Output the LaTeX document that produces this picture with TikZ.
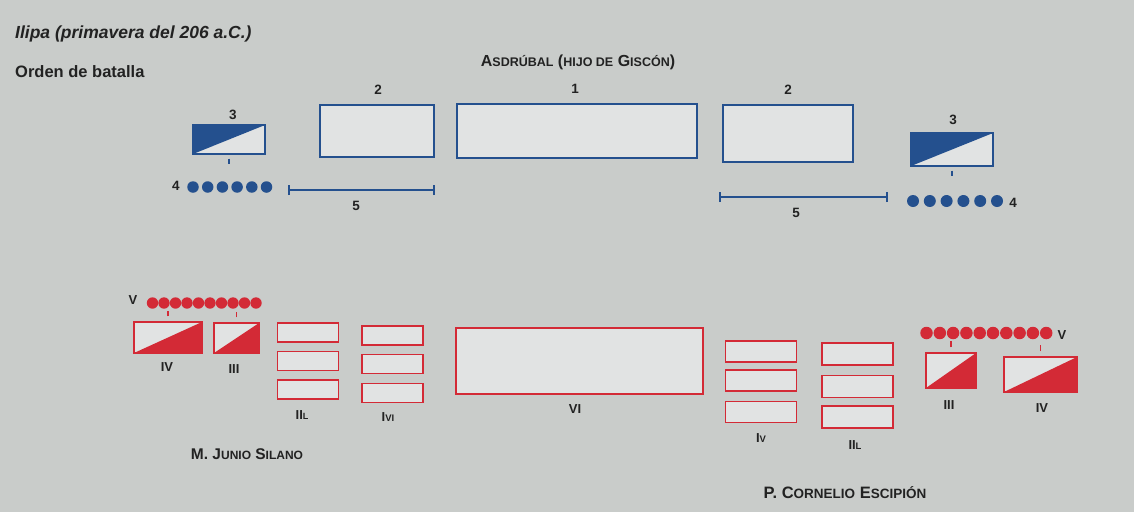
\documentclass[tikz,border=0pt]{standalone}
\usepackage{fontspec}
\setmainfont{Liberation Sans}
\definecolor{bg}{HTML}{C9CCCA}
\definecolor{boxfill}{HTML}{E1E3E3}
\definecolor{carth}{HTML}{24508E}
\definecolor{rom}{HTML}{D32A36}
\definecolor{ink}{HTML}{222222}
\newcommand{\mysc}[2][12.5]{{\fontsize{#1}{#1}\selectfont #2}}
\begin{document}
\begin{tikzpicture}[x=1pt,y=-1pt,
  cbox/.style={draw=carth,line width=1.4pt,fill=boxfill,inner sep=0pt},
  rbox/.style={draw=rom,line width=1.4pt,fill=boxfill,inner sep=0pt},
  cflag/.style={cbox,path picture={\fill[carth] (path picture bounding box.north west) -- (path picture bounding box.north east) -- (path picture bounding box.south west) -- cycle;}},
  rflag/.style={rbox,path picture={\fill[rom] (path picture bounding box.south west) -- (path picture bounding box.south east) -- (path picture bounding box.north east) -- cycle;}},
  cdot/.style={circle,fill=carth,inner sep=0pt,minimum size=11.5pt},
  rdot/.style={circle,fill=rom,inner sep=0pt,minimum size=11.4pt},
  ctick/.style={draw=carth,line width=1.2pt},
  rtick/.style={draw=rom,line width=1.2pt},
  lbl/.style={text=ink,inner sep=0pt,font=\bfseries\fontsize{13.5}{13.5}\selectfont},
  rlbl/.style={text=ink,inner sep=0pt,font=\bfseries\fontsize{13}{13}\selectfont},
  head/.style={text=ink,inner sep=0pt,font=\bfseries\fontsize{16}{16}\selectfont}]
\useasboundingbox (0,0) rectangle (1134,512);
\fill[bg] (0,0) rectangle (1134,512);
% titles
\node[text=ink,inner sep=0pt,anchor=west,font=\bfseries\itshape\fontsize{17.5}{17.5}\selectfont] (title) at (15,34) {Ilipa (primavera del 206 a.C.)};
\node[text=ink,inner sep=0pt,anchor=west,font=\bfseries\fontsize{16.5}{16.5}\selectfont] (sub) at (15,72) {Orden de batalla};
\node[head] (asd) at (578,62) {A\mysc{SDRÚBAL} (\mysc{HIJO DE} G\mysc{ISCÓN})};
% Carthaginian line
\node[cbox,minimum width=240pt,minimum height=54pt] (c1) at (577,131) {};
\node[lbl] at (575,89) {1};
\node[cbox,minimum width=114pt,minimum height=52pt] (c2l) at (377,131) {};
\node[lbl] at (378,90) {2};
\node[cbox,minimum width=130pt,minimum height=57pt] (c2r) at (788,133.5) {};
\node[lbl] at (788,90) {2};
\node[cflag,minimum width=72pt,minimum height=29pt] (c3l) at (229,139.5) {};
\node[lbl] at (233,115) {3};
\draw[ctick] ([yshift=-4pt]c3l.south) -- ++(0,5);
\node[cflag,minimum width=82pt,minimum height=33pt] (c3r) at (952,149.5) {};
\node[lbl] at (953,120) {3};
\draw[ctick] ([yshift=-4pt]c3r.south) -- ++(0,5);
\foreach \i in {0,...,5} \node[cdot] (cl\i) at ({193+14.7*\i},187) {};
\node[lbl] at (176,186) {4};
\foreach \i in {0,...,5} \node[cdot,minimum size=12pt] (cr\i) at ({913+16.8*\i},201) {};
\node[lbl] at (1013,203) {4};
\coordinate (s1a) at (289,190); \coordinate (s1b) at (434,190);
\draw[ctick] (s1a) -- (s1b);
\draw[ctick] ([yshift=-5pt]s1a) -- ([yshift=5pt]s1a);
\draw[ctick] ([yshift=-5pt]s1b) -- ([yshift=5pt]s1b);
\node[lbl] at (356,206) {5};
\coordinate (s2a) at (720,197); \coordinate (s2b) at (887,197);
\draw[ctick] (s2a) -- (s2b);
\draw[ctick] ([yshift=-5pt]s2a) -- ([yshift=5pt]s2a);
\draw[ctick] ([yshift=-5pt]s2b) -- ([yshift=5pt]s2b);
\node[lbl] at (796,213) {5};
% Roman line
\node[rbox,minimum width=247pt,minimum height=66pt] (r6) at (579.5,361) {};
\node[rlbl] at (575,409) {VI};
\node[rflag,minimum width=68pt,minimum height=31pt] (r4l) at (168,337.5) {};
\node[rlbl] at (167,367) {IV};
\node[rflag,minimum width=45pt,minimum height=30pt] (r3l) at (236.5,338) {};
\node[rlbl] at (234,369) {III};
\foreach \i in {0,...,9} \node[rdot] (rl\i) at ({152.5+11.5*\i},303) {};
\node[rlbl] at (133,300) {V};
\draw[rtick] ([yshift=5pt]r4l.north) -- ++(0,-5);
\draw[rtick] ([yshift=5pt]r3l.north) -- ++(0,-5);
\foreach \y [count=\k] in {332.5,361,389.5} \node[rbox,minimum width=61pt,minimum height=19pt] (a\k) at (308,\y) {};
\node[rlbl] at (302,415) {II\mysc[9]{L}};
\foreach \y [count=\k] in {335.5,364,393} \node[rbox,minimum width=61pt,minimum height=19pt] (b\k) at (392.5,\y) {};
\node[rlbl] at (388,417) {I\mysc[9.5]{VI}};
\foreach \y [count=\k] in {351.5,380.5,412} \node[rbox,minimum width=71pt,minimum height=21pt] (c\k) at (761,\y) {};
\node[rlbl] at (761,438) {I\mysc[9.5]{V}};
\foreach \y [count=\k] in {354,386.5,417} \node[rbox,minimum width=71pt,minimum height=22pt] (d\k) at (857.5,\y) {};
\node[rlbl] at (855,445) {II\mysc[9.5]{L}};
\foreach \i in {0,...,9} \node[rdot,minimum size=12.5pt] (rr\i) at ({926.5+13.3*\i},333) {};
\node[rlbl] at (1062,335) {V};
\node[rflag,minimum width=50pt,minimum height=35pt] (r3r) at (951,370.5) {};
\node[rlbl] at (949,405) {III};
\node[rflag,minimum width=73pt,minimum height=35pt] (r4r) at (1040.5,374.5) {};
\node[rlbl] at (1042,408) {IV};
\draw[rtick] ([yshift=5pt]r3r.north) -- ++(0,-6);
\draw[rtick] ([yshift=5pt]r4r.north) -- ++(0,-6);
\node[head,font=\bfseries\fontsize{15.5}{15.5}\selectfont] (sil) at (247,454) {M. J\mysc[12]{UNIO} S\mysc[12]{ILANO}};
\node[head,font=\bfseries\fontsize{16.5}{16.5}\selectfont] (esc) at (845,493) {P. C\mysc[13.5]{ORNELIO} E\mysc[13.5]{SCIPIÓN}};
\end{tikzpicture}
\end{document}
